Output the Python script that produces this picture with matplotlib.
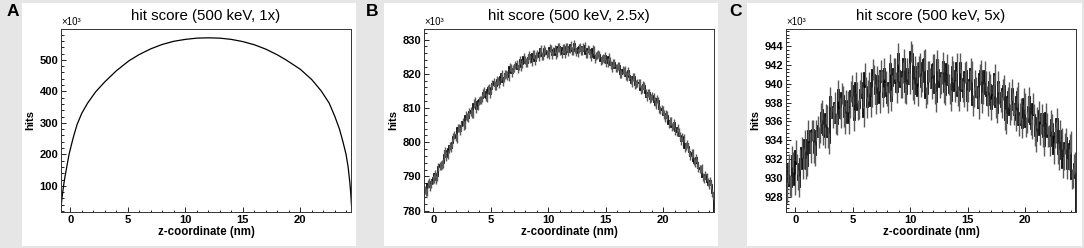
import numpy as np
import matplotlib.pyplot as plt
from matplotlib.patches import Rectangle
from matplotlib.ticker import MultipleLocator

plt.rcParams['font.family'] = ['Liberation Sans', 'DejaVu Sans']

#%% data (hits in units of 10^3)
titles = ["hit score (500 keV, 1x)", "hit score (500 keV, 2.5x)", "hit score (500 keV, 5x)"]
letters = ["A", "B", "C"]

# panel A: smooth profile
a_z = [-0.78, -0.72, -0.65, -0.58, -0.45, -0.3, -0.1, 0.1, 0.3, 0.6, 1.0, 1.5, 2.2,
       3.0, 4.0, 5.1, 6.0, 7.0, 8.0, 9.0, 10.0, 11.0, 12.0, 13.0, 14.0, 15.0, 16.0,
       17.0, 18.0, 18.75, 19.5, 20.0, 21.0, 21.8, 22.5, 23.0, 23.4, 23.7, 23.97,
       24.15, 24.3, 24.38, 24.45]
a_hits = [35, 60, 80, 100, 130, 160, 200, 230, 258, 295, 330, 362, 398,
          430, 465, 497, 517, 535, 549, 559, 565, 569, 570, 569, 565, 558, 548,
          534, 516, 500, 482, 470, 437, 402, 363, 320, 280, 240, 200,
          160, 110, 75, 35]

# panels B and C: 252 bins of 0.1 nm from -0.8 to 24.4 nm
bin_lo, bin_hi, n_bins = -0.8, 24.4, 252

b_hits = [786.1, 785.4, 785.5, 787.9, 788.4, 786.8, 787.8, 789.0, 789.4, 790.7,
          789.1, 790.0, 792.7, 793.0, 793.2, 793.5, 793.8, 796.4, 797.3, 795.8,
          796.2, 798.1, 799.0, 798.3, 799.8, 801.6, 802.1, 801.5, 801.1, 804.2,
          804.2, 803.3, 804.6, 805.8, 804.9, 805.0, 807.8, 807.3, 807.2, 808.8,
          809.0, 808.4, 808.3, 811.3, 811.9, 809.7, 810.5, 812.1, 812.4, 812.4,
          812.9, 814.5, 814.8, 813.3, 813.0, 815.4, 815.8, 814.2, 815.7, 817.1,
          817.6, 816.6, 816.4, 818.1, 817.9, 817.0, 819.0, 819.8, 817.7, 818.7,
          819.8, 819.9, 819.5, 819.1, 821.9, 821.8, 820.2, 821.3, 821.8, 822.5,
          822.9, 821.3, 822.3, 824.1, 822.0, 822.9, 824.9, 824.0, 823.3, 823.3,
          824.7, 825.4, 824.4, 823.4, 825.7, 825.7, 823.8, 825.3, 825.7, 824.9,
          826.2, 827.3, 825.2, 825.1, 827.3, 826.6, 825.8, 826.1, 825.4, 827.5,
          827.1, 825.5, 826.7, 827.2, 825.5, 826.2, 827.7, 827.7, 826.7, 825.7,
          827.4, 827.4, 825.7, 827.9, 827.9, 826.5, 827.3, 828.4, 826.6, 826.8,
          828.7, 827.3, 826.4, 826.1, 827.4, 827.8, 826.7, 826.8, 827.8, 828.2,
          825.8, 825.9, 827.2, 827.0, 825.9, 824.9, 827.2, 826.8, 824.5, 825.2,
          825.5, 825.7, 825.6, 823.8, 824.2, 824.7, 824.3, 825.3, 823.1, 823.3,
          825.0, 823.8, 822.5, 821.7, 823.1, 823.1, 821.8, 821.6, 822.2, 822.2,
          819.9, 819.9, 821.0, 820.7, 821.2, 819.5, 819.0, 820.9, 819.4, 818.3,
          817.4, 819.0, 819.0, 816.7, 817.1, 817.3, 817.4, 817.4, 815.4, 815.5,
          816.7, 816.4, 814.4, 813.3, 814.5, 814.4, 812.6, 813.0, 813.5, 813.2,
          811.9, 810.8, 812.7, 812.0, 809.6, 809.4, 809.7, 809.3, 808.1, 807.0,
          808.3, 807.8, 805.4, 806.1, 806.1, 804.4, 804.7, 805.6, 803.2, 803.0,
          804.1, 803.0, 801.9, 800.4, 801.6, 801.3, 798.3, 798.9, 799.5, 798.6,
          797.2, 795.9, 796.7, 796.9, 794.4, 794.0, 795.4, 793.8, 792.4, 792.1,
          792.1, 792.5, 789.9, 789.3, 790.5, 789.8, 788.3, 787.6, 788.6, 787.4,
          785.1, 784.3]

c_hits = [928.5, 930.6, 931.5, 929.2, 929.1, 932.3, 931.7, 929.3, 932.9, 931.5,
          929.8, 929.1, 932.0, 933.2, 931.0, 932.1, 934.0, 931.0, 931.3, 935.0,
          933.8, 932.7, 935.0, 935.1, 932.7, 932.4, 935.0, 935.5, 934.3, 934.8,
          936.9, 937.2, 934.6, 934.3, 936.8, 936.6, 934.3, 933.7, 938.6, 937.5,
          936.4, 936.9, 938.0, 935.8, 935.7, 939.3, 937.4, 936.4, 939.0, 938.7,
          936.5, 935.8, 938.2, 938.1, 935.8, 937.5, 939.2, 939.8, 937.6, 936.1,
          940.1, 939.1, 937.2, 937.4, 939.3, 940.1, 938.5, 936.5, 941.1, 939.6,
          937.5, 939.3, 940.1, 937.6, 938.6, 941.5, 940.9, 938.9, 937.9, 940.8,
          940.3, 938.0, 941.4, 940.2, 938.6, 941.6, 940.2, 938.7, 938.0, 940.1,
          942.1, 938.2, 939.8, 941.6, 941.6, 940.1, 939.1, 943.2, 941.4, 939.6,
          939.6, 941.2, 942.6, 939.1, 938.9, 941.6, 941.1, 940.0, 943.4, 943.1,
          939.4, 938.9, 941.8, 941.2, 938.7, 941.8, 942.2, 939.7, 940.2, 942.5,
          942.6, 938.5, 938.9, 941.3, 941.3, 940.6, 939.5, 942.0, 942.1, 939.0,
          938.1, 942.5, 941.5, 939.6, 940.0, 941.1, 942.3, 939.1, 938.8, 942.1,
          941.0, 939.9, 939.0, 938.2, 941.8, 941.3, 939.2, 940.3, 942.2, 938.7,
          938.2, 942.2, 940.5, 939.2, 938.6, 941.2, 941.3, 938.2, 939.2, 940.4,
          941.6, 941.3, 937.7, 938.6, 940.4, 939.6, 938.6, 937.4, 941.0, 941.4,
          938.0, 938.9, 941.3, 940.3, 938.7, 937.7, 940.2, 939.9, 937.3, 938.8,
          939.8, 941.0, 937.5, 936.9, 940.2, 939.0, 938.1, 937.5, 939.4, 939.8,
          936.2, 935.8, 938.6, 939.1, 936.7, 937.2, 939.4, 937.9, 936.7, 936.1,
          938.6, 939.1, 935.6, 936.9, 937.4, 935.3, 938.4, 937.9, 935.4, 935.9,
          937.5, 938.6, 935.7, 935.2, 937.9, 936.7, 934.5, 933.9, 936.4, 937.1,
          934.6, 935.8, 936.8, 934.4, 933.4, 936.9, 935.8, 934.4, 934.5, 933.4,
          936.1, 935.7, 932.6, 934.3, 934.8, 936.3, 932.6, 932.0, 935.0, 934.2,
          931.1, 932.0, 933.7, 934.2, 931.0, 932.0, 933.6, 933.9, 929.9, 930.0,
          931.5, 931.7]

b_err = 1.2
c_err = 1.1

xlims = (-0.8, 24.4)
ylims = [(17, 598), (779.6, 833.1), (926.4, 945.8)]
y_major = [100, 10, 2]
y_minor = [20, 2, 0.4]

#%% layout (pixels of a 1084x248 canvas)
W, H = 1084, 248
boxes = [(22, 334), (384, 334), (747, 335)]      # white pads: left, width
axes_left = [61, 424, 786]
letter_x = [13, 372, 735]

fig = plt.figure(figsize=(W / 100, H / 100), dpi=100, facecolor='#e6e6e6')

edges = np.linspace(bin_lo, bin_hi, n_bins + 1)
centres = 0.5 * (edges[:-1] + edges[1:])

for i in range(3):
    bx, bw = boxes[i]
    fig.add_artist(Rectangle((bx / W, 2 / H), bw / W, 243 / H, transform=fig.transFigure,
                             facecolor='white', edgecolor='none', zorder=0))
    fig.text(letter_x[i] / W, 1 - 11 / H, letters[i], fontsize=12.5, fontweight='bold',
             ha='center', va='center')

    ax = fig.add_axes([axes_left[i] / W, 36 / H, 290 / W, 183 / H])
    ax.set_facecolor('white')
    if i == 0:
        ax.plot(a_z, a_hits, color='black', lw=0.9)
    else:
        vals = b_hits if i == 1 else c_hits
        err = b_err if i == 1 else c_err
        ax.errorbar(centres, vals, yerr=err, fmt='none', ecolor='0.35', elinewidth=1.0)
        ax.stairs(vals, edges, color='black', lw=1.25)

    ax.set_xlim(*xlims)
    ax.set_ylim(*ylims[i])
    ax.xaxis.set_major_locator(MultipleLocator(5))
    ax.xaxis.set_minor_locator(MultipleLocator(1))
    ax.yaxis.set_major_locator(MultipleLocator(y_major[i]))
    ax.yaxis.set_minor_locator(MultipleLocator(y_minor[i]))
    ax.tick_params(which='both', direction='in', top=False, right=False, labelsize=8, width=0.6)
    ax.tick_params(which='major', length=3.5, pad=2)
    ax.tick_params(which='minor', length=1.8)
    for s in ax.spines.values():
        s.set_linewidth(0.7)
        s.set_color('#333333')

    xt = [t for t in ax.get_xticks() if xlims[0] <= t <= xlims[1]]
    ax.set_xticks(xt, [f"{t:g}" for t in xt], fontweight='bold')
    yt = [t for t in ax.get_yticks() if ylims[i][0] <= t <= ylims[i][1]]
    ax.set_yticks(yt, [f"{t:g}" for t in yt], fontweight='bold')

    ax.set_xlabel("z-coordinate (nm)", fontsize=8.3, fontweight='bold', labelpad=1)
    ax.set_ylabel("hits", fontsize=8.1, fontweight='bold', labelpad=3)
    ax.text(0.5, 1 + 13 / 183, titles[i], transform=ax.transAxes, fontsize=10.8,
            ha='center', va='center')
    ax.text(0.0, 1.01, "×10³", transform=ax.transAxes, fontsize=7,
            ha='left', va='bottom')

fig.savefig("out.png", dpi=100, facecolor=fig.get_facecolor())
